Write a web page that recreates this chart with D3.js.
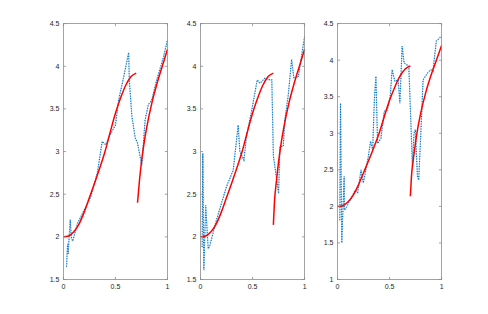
<!DOCTYPE html>
<html>
<head>
<style>
    body { margin: 0; background: #fff; }
    .tick-label { font-family: "Liberation Sans", Arial, sans-serif; font-size: 7px; fill: #262626; }
</style>
</head>
<body>
<svg width="488" height="314"></svg>
<script src="https://d3js.org/d3.v7.min.js"></script>
<script>

    // tick labels
    var xTicks = [0, 0.5, 1];
    var yTicksA = [1.5, 2, 2.5, 3, 3.5, 4, 4.5];
    var yTicksB = [1, 1.5, 2, 2.5, 3, 3.5, 4, 4.5];

    // red fitted curve, first piece (same in all panels)
    var fitLeft = [[0, 2.00], [0.05, 2.01], [0.1, 2.06], [0.15, 2.15], [0.2, 2.29], [0.25, 2.46],
        [0.3, 2.63], [0.35, 2.81], [0.4, 3.00], [0.45, 3.23], [0.5, 3.45], [0.55, 3.63],
        [0.6, 3.78], [0.65, 3.88], [0.7, 3.92]];

    // red fitted curve, second piece
    var fitRight1 = [[0.712, 2.40], [0.73, 2.65], [0.75, 2.88], [0.775, 3.1], [0.8, 3.28],
        [0.85, 3.57], [0.9, 3.80], [0.95, 4.00], [1.0, 4.20]];
    var fitRight2 = [[0.70, 2.14], [0.71, 2.40], [0.73, 2.66], [0.75, 2.88], [0.775, 3.1],
        [0.8, 3.28], [0.85, 3.57], [0.9, 3.80], [0.95, 4.00], [1.0, 4.20]];

    // noisy measured series
    var meas1 = [[0.03, 1.65], [0.04, 1.92], [0.045, 1.8], [0.066, 2.2], [0.075, 2.0], [0.089, 1.95],
        [0.136, 2.16], [0.263, 2.47], [0.326, 2.75], [0.373, 3.12], [0.405, 3.08], [0.45, 3.2],
        [0.5, 3.31], [0.53, 3.6], [0.58, 3.88], [0.627, 4.16], [0.633, 3.84], [0.658, 3.41],
        [0.69, 3.16], [0.712, 3.1], [0.753, 2.84], [0.785, 3.37], [0.816, 3.55], [0.848, 3.6],
        [0.896, 3.84], [0.96, 4.1], [1.0, 4.31]];
    var meas2 = [[0.016, 1.88], [0.022, 2.98], [0.032, 1.61], [0.05, 2.37], [0.074, 1.86],
        [0.09, 1.9], [0.154, 2.2], [0.25, 2.59], [0.314, 2.78], [0.362, 3.31], [0.378, 3.0],
        [0.417, 2.9], [0.442, 3.18], [0.49, 3.47], [0.545, 3.84], [0.57, 3.8], [0.619, 3.86],
        [0.667, 3.84], [0.685, 3.84], [0.7, 2.95], [0.75, 2.51], [0.763, 3.06], [0.795, 3.06],
        [0.81, 3.37], [0.843, 3.66], [0.875, 4.08], [0.897, 3.86], [0.94, 3.88], [1.0, 4.35]];
    var meas3 = [[0.022, 1.81], [0.029, 3.41], [0.041, 1.5], [0.064, 2.41], [0.067, 1.95],
        [0.08, 1.97], [0.105, 2.04], [0.169, 2.22], [0.194, 2.19], [0.226, 2.5], [0.248, 2.32],
        [0.296, 2.68], [0.318, 2.89], [0.338, 2.77], [0.354, 3.46], [0.369, 3.78], [0.385, 2.86],
        [0.417, 2.93], [0.449, 3.3], [0.48, 3.32], [0.506, 3.5], [0.525, 3.87], [0.551, 3.71],
        [0.583, 3.73], [0.599, 3.41], [0.621, 4.19], [0.64, 3.96], [0.662, 3.94], [0.685, 3.92],
        [0.704, 3.18], [0.72, 2.54], [0.735, 3.0], [0.748, 3.05], [0.768, 2.41], [0.78, 2.36],
        [0.806, 3.18], [0.822, 3.73], [0.844, 3.78], [0.863, 3.82], [0.895, 3.87], [0.917, 3.85],
        [0.949, 4.26], [1.0, 4.33]];

    var panels = [
        {left: 63.4, yMin: 1.5, yTicks: yTicksA, meas: meas1, fitR: fitRight1},
        {left: 200.5, yMin: 1.5, yTicks: yTicksA, meas: meas2, fitR: fitRight2},
        {left: 337.5, yMin: 1, yTicks: yTicksB, meas: meas3, fitR: fitRight2}
    ];

    var svg = d3.select("svg"),
        plotTop = 23.6, plotH = 255.9, plotW = 104.1, tickLen = 2.6;

    panels.forEach(function (p) {
        var x = d3.scaleLinear().domain([0, 1]).range([p.left, p.left + plotW]);
        var y = d3.scaleLinear().domain([p.yMin, 4.5]).range([plotTop + plotH, plotTop]);
        var g = svg.append("g");

        var line = d3.line()
            .x(function (d) { return x(d[0]); })
            .y(function (d) { return y(d[1]); });
        var smooth = d3.line()
            .x(function (d) { return x(d[0]); })
            .y(function (d) { return y(d[1]); })
            .curve(d3.curveMonotoneX);

        // measured data
        g.append("path").datum(p.meas)
            .attr("d", line).attr("fill", "none")
            .attr("stroke", "#9fcbee").attr("stroke-width", 0.8);
        g.append("path").datum(p.meas)
            .attr("d", line).attr("fill", "none")
            .attr("stroke", "#0072BD").attr("stroke-width", 1.2)
            .attr("stroke-dasharray", "1,1.5");

        // fitted curves
        [fitLeft, p.fitR].forEach(function (c) {
            g.append("path").datum(c)
                .attr("d", smooth).attr("fill", "none")
                .attr("stroke", "#ff0000").attr("stroke-width", 1.5);
        });

        // box
        g.append("rect")
            .attr("x", x(0)).attr("y", y(4.5))
            .attr("width", plotW).attr("height", plotH)
            .attr("fill", "none").attr("stroke", "#8c8c8c").attr("stroke-width", 0.8);

        // y ticks, both sides
        p.yTicks.forEach(function (t) {
            g.append("line").attr("x1", x(0)).attr("x2", x(0) + tickLen)
                .attr("y1", y(t)).attr("y2", y(t)).attr("stroke", "#8c8c8c").attr("stroke-width", 0.8);
            g.append("line").attr("x1", x(1)).attr("x2", x(1) - tickLen)
                .attr("y1", y(t)).attr("y2", y(t)).attr("stroke", "#8c8c8c").attr("stroke-width", 0.8);
            g.append("text").attr("class", "tick-label")
                .attr("x", x(0) - 4).attr("y", y(t)).attr("dy", "0.35em")
                .attr("text-anchor", "end").text(t);
        });

        // x ticks, top and bottom
        xTicks.forEach(function (t) {
            g.append("line").attr("x1", x(t)).attr("x2", x(t))
                .attr("y1", y(p.yMin)).attr("y2", y(p.yMin) - tickLen).attr("stroke", "#8c8c8c").attr("stroke-width", 0.8);
            g.append("line").attr("x1", x(t)).attr("x2", x(t))
                .attr("y1", y(4.5)).attr("y2", y(4.5) + tickLen).attr("stroke", "#8c8c8c").attr("stroke-width", 0.8);
            g.append("text").attr("class", "tick-label")
                .attr("x", x(t)).attr("y", y(p.yMin) + 9.5)
                .attr("text-anchor", "middle").text(t);
        });
    });

</script>
</body>
</html>
